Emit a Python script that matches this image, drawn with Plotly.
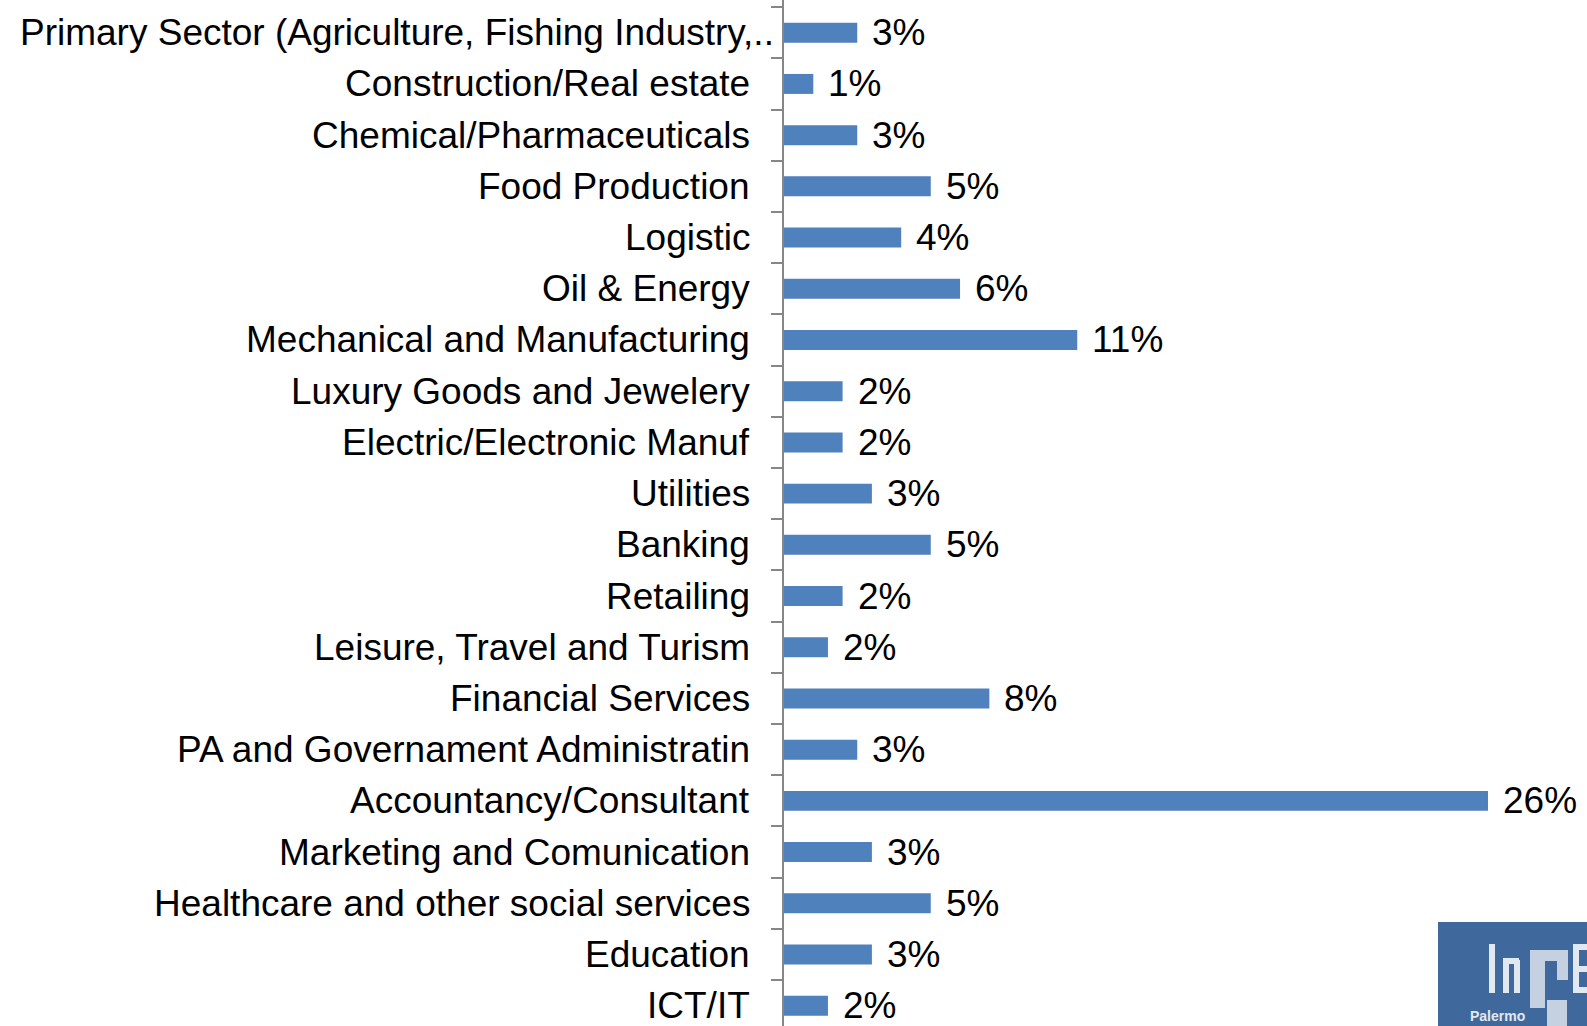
import plotly.graph_objects as go

categories = [
    "Primary Sector (Agriculture, Fishing Industry,..",
    "Construction/Real estate",
    "Chemical/Pharmaceuticals",
    "Food Production",
    "Logistic",
    "Oil & Energy",
    "Mechanical and Manufacturing",
    "Luxury Goods and Jewelery",
    "Electric/Electronic Manuf",
    "Utilities",
    "Banking",
    "Retailing",
    "Leisure, Travel and Turism",
    "Financial Services",
    "PA and Governament Administratin",
    "Accountancy/Consultant",
    "Marketing and Comunication",
    "Healthcare and other social services",
    "Education",
    "ICT/IT",
]
# share of respondents (%)
values = [2.70, 1.08, 2.70, 5.41, 4.32, 6.49, 10.81, 2.16, 2.16, 3.24,
          5.41, 2.16, 1.62, 7.57, 2.70, 25.95, 3.24, 5.41, 3.24, 1.62]
value_labels = ["3%", "1%", "3%", "5%", "4%", "6%", "11%", "2%", "2%", "3%",
                "5%", "2%", "2%", "8%", "3%", "26%", "3%", "5%", "3%", "2%"]

W, H = 1587, 1026
LEFT = 784
FONT = "Liberation Sans, Arial, sans-serif"
BAR = "#4F81BD"
AXIS = "#868686"
FS = 37


def px(X):
    return (X - LEFT) / (W - LEFT)


def py(Y):
    return (H - Y) / H


fig = go.Figure(go.Bar(
    x=values, y=categories, orientation="h",
    marker=dict(color=BAR, line=dict(width=0)),
    width=0.39, hoverinfo="skip",
))

annotations = []
for i, (c, v, t) in enumerate(zip(categories, values, value_labels)):
    annotations.append(dict(
        x=v, y=c, xref="x", yref="y", text=t, showarrow=False,
        xanchor="left", yanchor="middle", xshift=13,
        font=dict(family=FONT, size=FS, color="black"),
    ))
    annotations.append(dict(
        x=0, y=c, xref="paper", yref="y", text=c, showarrow=False,
        xanchor="right", yanchor="middle", xshift=(-8 if i == 0 else -32),
        font=dict(family=FONT, size=FS, color="black"),
    ))

# logo block (bottom-right corner)
LOGO_BG = "#3f689c"
LOGO_FG = "#e2e8f0"
LOGO_G = "#c5d0e0"
annotations.append(dict(
    x=px(1468), y=py(1006), xref="paper", yref="paper", text="<b>Palermo</b>",
    showarrow=False, xanchor="left", yanchor="top",
    font=dict(family=FONT, size=14, color=LOGO_FG)))

shapes = [dict(type="rect", xref="paper", yref="paper",
               x0=px(1438), x1=px(1590), y0=py(1030), y1=py(922),
               fillcolor=LOGO_BG, line=dict(width=0), layer="above")]
logo_parts = [
    # "I"
    (1489, 944, 1495, 993, LOGO_FG),
    # "n"
    (1503, 960, 1509, 993, LOGO_FG), (1503, 958, 1519, 964, LOGO_FG),
    (1514, 960, 1520, 993, LOGO_FG),
    # "G"
    (1530, 950, 1568, 961, LOGO_G), (1530, 950, 1545, 1008, LOGO_G),
    (1557, 950, 1568, 980, LOGO_G), (1547, 1000, 1567, 1030, LOGO_G),
    # "E" (cut off)
    (1573, 944, 1579, 993, LOGO_FG), (1573, 944, 1590, 950, LOGO_FG),
    (1573, 966, 1590, 972, LOGO_FG), (1573, 987, 1590, 993, LOGO_FG),
]
for (x0, y0, x1, y1, col) in logo_parts:
    shapes.append(dict(type="rect", xref="paper", yref="paper",
                       x0=px(x0), x1=px(x1), y0=py(y1), y1=py(y0),
                       fillcolor=col, line=dict(width=0), layer="above"))

fig.update_layout(
    width=W, height=H,
    margin=dict(l=LEFT, r=0, t=0, b=0),
    paper_bgcolor="white", plot_bgcolor="white",
    showlegend=False,
    annotations=annotations,
    shapes=shapes,
    xaxis=dict(range=[0, 29.6], visible=False, showgrid=False, zeroline=False),
    yaxis=dict(
        type="category", categoryorder="array", categoryarray=categories,
        range=[19.396, -0.639],
        showticklabels=False, ticks="outside", tickson="boundaries",
        ticklen=11, tickwidth=1.5, tickcolor=AXIS,
        showline=True, linecolor=AXIS, linewidth=1.5,
        showgrid=False, zeroline=False,
    ),
)

fig.write_html("out.html", config={"displayModeBar": False},
               post_script="document.body.style.margin='0';")
